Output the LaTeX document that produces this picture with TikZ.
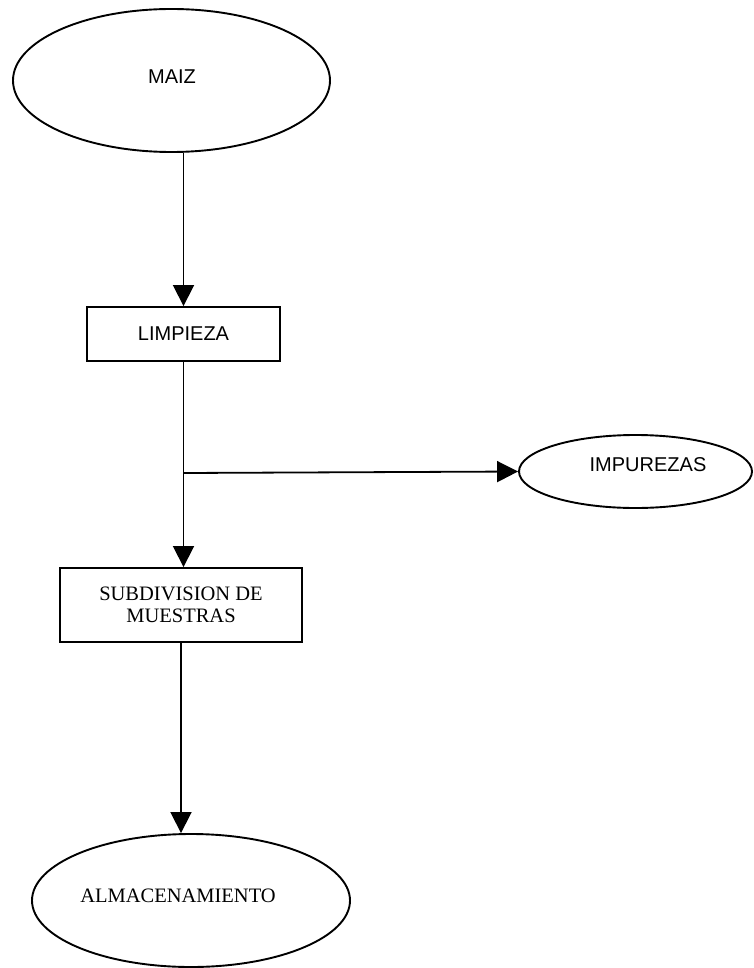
\documentclass[tikz,border=0pt]{standalone}
\usepackage{fontspec}
\setmainfont{Liberation Serif}
\setsansfont{Liberation Sans}
\usetikzlibrary{shapes.geometric,arrows.meta}
\begin{document}
\begin{tikzpicture}[x=1pt,y=-1pt,
  oval/.style={draw,ellipse,line width=1.9pt,inner sep=0pt},
  boxnode/.style={draw,rectangle,line width=1.9pt,inner sep=0pt,align=center},
  sanslbl/.style={font=\sffamily\fontsize{20}{22}\selectfont},
  seriflbl/.style={font=\rmfamily\fontsize{20.5}{22}\selectfont},
  flow/.style={line width=1.8pt,-{Triangle[length=21pt,width=21pt]}}]
\useasboundingbox (0,0) rectangle (753,968);
\node[oval,minimum width=317pt,minimum height=143pt,
  label={[sanslbl,xshift=0.5pt,yshift=3.5pt]center:MAIZ}] (maiz) at (171.5,80.5) {};
\node[boxnode,sanslbl,minimum width=193pt,minimum height=54pt] (limp) at (183.5,334) {LIMPIEZA};
\node[oval,minimum width=233pt,minimum height=73pt,
  label={[sanslbl,xshift=12.5pt,yshift=6.5pt]center:IMPUREZAS}] (imp) at (635.5,471.5) {};
\node[boxnode,seriflbl,minimum width=242pt,minimum height=74pt] (sub) at (181,605) {SUBDIVISION DE\\MUESTRAS};
\node[oval,minimum width=318pt,minimum height=133pt,
  label={[seriflbl,xshift=-13pt,yshift=5pt]center:ALMACENAMIENTO}] (alm) at (191,900.5) {};
\coordinate (j) at (183.5,473);
\draw[flow] (limp.north |- maiz.south) -- (limp.north);
\draw[line width=1.8pt] (limp.south) -- (j);
\draw[flow] (j) -- (j |- sub.north);
\draw[flow] (j) -- (imp.west);
\draw[flow] (sub.south) -- (sub.south |- alm.north);
\end{tikzpicture}
\end{document}
